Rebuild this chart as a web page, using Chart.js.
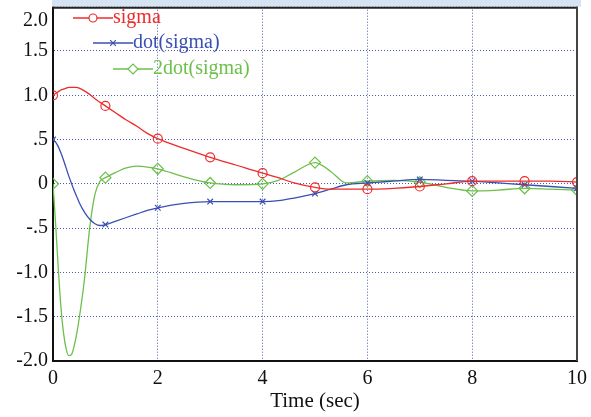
<!DOCTYPE html>
<html>
<head>
<meta charset="utf-8">
<script src="https://cdn.jsdelivr.net/npm/chart.js@4/dist/chart.umd.min.js"></script>
<style>
  html, body { margin: 0; padding: 0; background: #fff; }
  #wrap { width: 591px; height: 417px; }
</style>
</head>
<body>
<div id="wrap"><canvas id="myChart" width="591" height="417"></canvas></div>
<script>
// time samples (sec), markers only on whole seconds
const timeSec = [0, 0.05, 0.1, 0.15, 0.2, 0.25, 0.3, 0.35, 0.4, 0.45, 0.5, 0.6, 0.7, 0.8, 0.9,
  1, 1.2, 1.4, 1.6, 1.8, 2, 2.5, 3, 3.5, 4, 4.3, 4.6, 5, 5.3, 5.6, 6, 6.5, 7, 7.5, 8, 8.5, 9, 9.5, 10];

const sigma = [1.00, 1.02, 1.04, 1.06, 1.07, 1.08, 1.09, 1.09, 1.09, 1.09, 1.08, 1.05, 1.01, 0.96, 0.92,
  0.88, 0.80, 0.72, 0.65, 0.57, 0.51, 0.40, 0.30, 0.21, 0.12, 0.07, 0.01, -0.04, -0.06, -0.06, -0.06, -0.05, -0.03, 0.00, 0.03, 0.03, 0.03, 0.03, 0.02];

const dotSigma = [0.50, 0.47, 0.42, 0.35, 0.27, 0.18, 0.09, 0.01, -0.07, -0.14, -0.21, -0.32, -0.40, -0.45, -0.47,
  -0.46, -0.42, -0.38, -0.34, -0.30, -0.27, -0.22, -0.20, -0.20, -0.20, -0.19, -0.16, -0.11, -0.06, -0.01, 0.01, 0.03, 0.05, 0.04, 0.03, 0.01, -0.01, -0.03, -0.05];

const ddotSigma = [0.00, -0.45, -0.95, -1.38, -1.68, -1.86, -1.94, -1.93, -1.84, -1.70, -1.52, -1.08, -0.50, -0.12, 0.03,
  0.07, 0.13, 0.18, 0.20, 0.19, 0.17, 0.08, 0.01, -0.01, 0.00, 0.04, 0.13, 0.24, 0.14, 0.01, 0.03, 0.04, 0.02, -0.04, -0.08, -0.07, -0.05, -0.06, -0.07];

const seriesNames = ["sigma", "dot(sigma)", "2dot(sigma)"];
const xTicks = [0, 2, 4, 6, 8, 10];
const yTickLabels = { "2": "2.0", "1.5": "1.5", "1": "1.0", "0.5": ".5", "0": "0", "-0.5": "-.5", "-1": "-1.0", "-1.5": "-1.5", "-2": "-2.0" };

const RED = "#ee2b2b";
const BLUE = "#3a4fb2";
const GREEN = "#6cc04a";
const FONT = "'Liberation Serif', 'Times New Roman', serif";

const toPts = (ys) => timeSec.map((t, i) => ({ x: t, y: ys[i] }));
const onWhole = (ctx) => ctx.raw && Number.isInteger(ctx.raw.x);

function makeSet(label, ys, color, style, r) {
  return {
    label: label,
    data: toPts(ys),
    borderColor: color,
    borderWidth: 1.3,
    pointStyle: style,
    pointBorderColor: color,
    pointBackgroundColor: "rgba(0,0,0,0)",
    pointBorderWidth: 1.2,
    pointRadius: (ctx) => (onWhole(ctx) ? r : 0),
    cubicInterpolationMode: "monotone",
    fill: false,
  };
}

// staggered legend inside plot, plus frame on top/right
const extras = {
  id: "extras",
  afterDraw(chart) {
    const ctx = chart.ctx;
    const a = chart.chartArea;
    ctx.save();
    ctx.fillStyle = "#d6e3f2";
    ctx.fillRect(a.left - 1, 0, a.right - a.left + 5, a.top);
    ctx.strokeStyle = "#222";
    ctx.lineWidth = 2;
    ctx.beginPath();
    ctx.moveTo(a.left, a.top + 1);
    ctx.lineTo(a.right + 1, a.top + 1);
    ctx.stroke();
    ctx.strokeStyle = "#444";
    ctx.beginPath();
    ctx.moveTo(a.right, a.top);
    ctx.lineTo(a.right, a.bottom);
    ctx.stroke();

    const rows = [
      { x: 73, y: 18, c: RED, s: "circle", r: 4 },
      { x: 93, y: 43, c: BLUE, s: "crossRot", r: 4 },
      { x: 113, y: 69, c: GREEN, s: "rectRot", r: 5 },
    ];
    ctx.font = "20px " + FONT;
    ctx.textBaseline = "middle";
    rows.forEach((row, i) => {
      ctx.strokeStyle = row.c;
      ctx.lineWidth = 1.3;
      ctx.beginPath();
      ctx.moveTo(row.x, row.y);
      ctx.lineTo(row.x + 40, row.y);
      ctx.stroke();
      ctx.fillStyle = "#fff";
      ctx.lineWidth = 1.2;
      Chart.helpers.drawPoint(ctx, { pointStyle: row.s, radius: row.r, rotation: 0, borderWidth: 1.2 }, row.x + 20, row.y);
      ctx.fillStyle = row.c;
      ctx.fillText(seriesNames[i], row.x + 40, row.y);
    });
    ctx.restore();
  },
};

new Chart("myChart", {
  type: "line",
  data: {
    datasets: [
      makeSet(seriesNames[0], sigma, RED, "circle", 4.5),
      makeSet(seriesNames[1], dotSigma, BLUE, "crossRot", 4),
      makeSet(seriesNames[2], ddotSigma, GREEN, "rectRot", 5.5),
    ],
  },
  options: {
    responsive: false,
    animation: false,
    layout: { padding: { top: 5, right: 14, left: 0, bottom: 0 } },
    plugins: { legend: { display: false }, tooltip: { enabled: false } },
    scales: {
      x: {
        type: "linear",
        min: 0,
        max: 10,
        afterBuildTicks: (s) => { s.ticks = xTicks.map((v) => ({ value: v })); },
        afterFit: (s) => { s.height = 56; s.paddingLeft = 0; s.paddingRight = 0; },
        ticks: { color: "#111", font: { family: FONT, size: 20 }, padding: 6, maxRotation: 0, autoSkip: false },
        grid: { color: "#4a5cb6", lineWidth: 1, drawTicks: false },
        border: { color: "#111", width: 2, dash: [1, 2] },
        title: { display: true, text: "Time (sec)", color: "#111", font: { family: FONT, size: 21 }, padding: { top: 0, bottom: 3 } },
      },
      y: {
        min: -2,
        max: 2,
        afterBuildTicks: (s) => { s.ticks = Object.keys(yTickLabels).map((k) => ({ value: Number(k) })); },
        afterFit: (s) => { s.width = 53; s.paddingTop = 0; s.paddingBottom = 0; },
        ticks: {
          color: "#111",
          font: { family: FONT, size: 20, lineHeight: 1.4 },
          padding: 5,
          autoSkip: false,
          callback: (v) => (v === 2 ? ["", yTickLabels["2"]] : yTickLabels[String(v)]),
        },
        grid: { color: "#4a5cb6", lineWidth: 1, drawTicks: false },
        border: { color: "#111", width: 2, dash: [1, 2] },
      },
    },
  },
  plugins: [extras],
});
</script>
</body>
</html>
